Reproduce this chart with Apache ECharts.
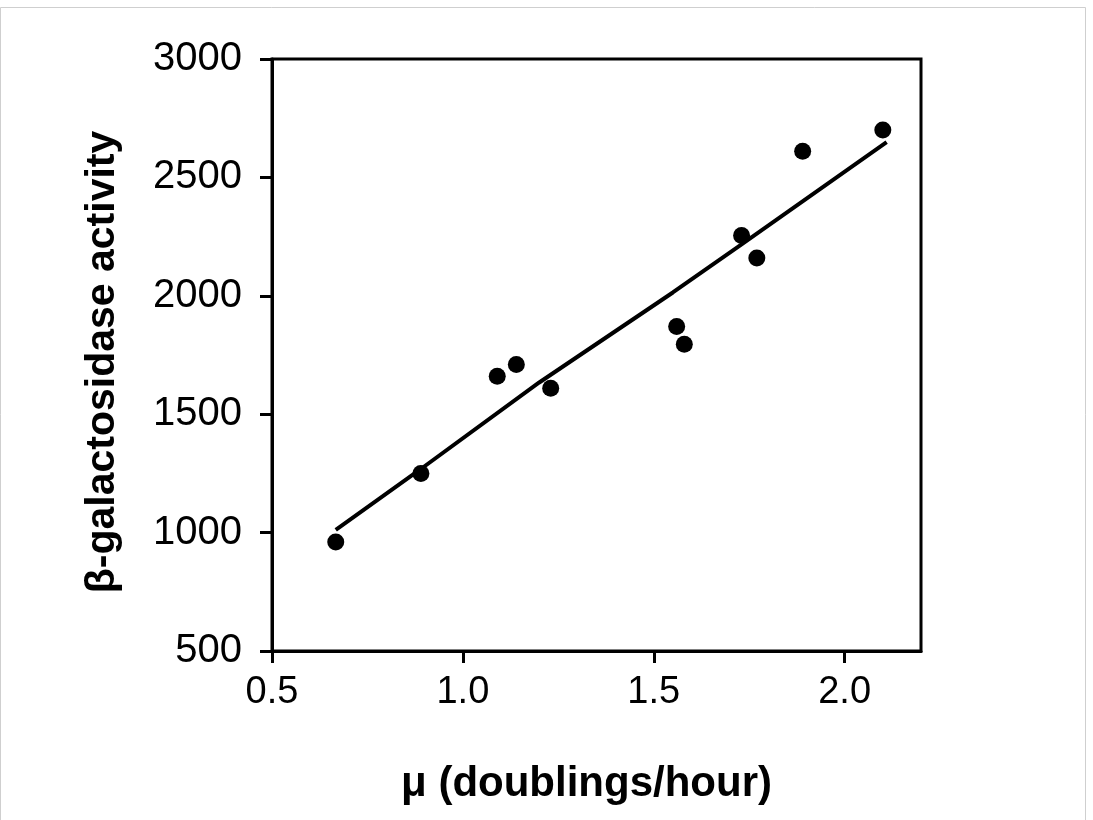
<!DOCTYPE html>
<html>
<head>
<meta charset="utf-8">
<script src="https://cdn.jsdelivr.net/npm/echarts@6/dist/echarts.min.js"></script>
<style>
  html, body { margin: 0; padding: 0; background: #fff; }
  #chart { width: 1093px; height: 820px; }
</style>
</head>
<body>
<div id="chart"></div>
<script>
// Growth rate (doublings per hour) and measured β-galactosidase activity
const growthRate = [0.667, 0.89, 1.09, 1.14, 1.23, 1.56, 1.58, 1.73, 1.77, 1.89, 2.10];
const activity   = [960, 1250, 1660, 1710, 1610, 1870, 1795, 2255, 2160, 2610, 2700];

// Fitted trend line through the measurements
const fitRate     = [0.667, 0.88, 1.20, 1.55, 1.73, 2.11];
const fitActivity = [1012, 1257, 1634, 2014, 2217, 2649];

// Axis ticks
const xTicks = [0.5, 1.0, 1.5, 2.0];
const yTicks = [500, 1000, 1500, 2000, 2500, 3000];

const FONT = '"Liberation Sans", Arial, sans-serif';

const chart = echarts.init(document.getElementById('chart'), null, { renderer: 'canvas' });

chart.setOption({
  backgroundColor: '#ffffff',
  animation: false,
  graphic: [{
    type: 'rect',
    shape: { x: 0.5, y: 7.5, width: 1085, height: 820 },
    style: { fill: 'none', stroke: '#cfcfcf', lineWidth: 1 },
    silent: true
  }],
  grid: {
    left: 272, top: 59, right: 172, bottom: 169,
    show: true, borderColor: '#000', borderWidth: 3, backgroundColor: 'transparent'
  },
  xAxis: {
    type: 'value',
    min: 0.5, max: 2.2, interval: 0.5,
    name: 'μ (doublings/hour)',
    nameLocation: 'middle',
    nameGap: 112,
    nameTextStyle: { fontFamily: FONT, fontWeight: 'bold', fontSize: 42, color: '#000', padding: [0, 20, 0, 0] },
    axisLine: { show: true, onZero: false, lineStyle: { color: '#000', width: 3 } },
    axisTick: { show: true, inside: false, length: 12, customValues: xTicks, lineStyle: { color: '#000', width: 3 } },
    axisLabel: {
      customValues: xTicks, margin: 23,
      fontFamily: FONT, fontSize: 38, color: '#000',
      formatter: v => v.toFixed(1)
    },
    splitLine: { show: false }
  },
  yAxis: {
    type: 'value',
    min: 500, max: 3000, interval: 500,
    name: 'β-galactosidase activity',
    nameLocation: 'middle',
    nameGap: 149,
    nameRotate: 90,
    nameTextStyle: { fontFamily: FONT, fontWeight: 'bold', fontSize: 41, color: '#000', padding: [0, 14, 0, 0] },
    axisLine: { show: true, onZero: false, lineStyle: { color: '#000', width: 3 } },
    axisTick: { show: true, inside: false, length: 12, customValues: yTicks, lineStyle: { color: '#000', width: 3 } },
    axisLabel: {
      customValues: yTicks, margin: 30,
      fontFamily: FONT, fontSize: 40, color: '#000',
      formatter: v => String(v)
    },
    splitLine: { show: false }
  },
  series: [
    {
      type: 'line',
      data: fitRate.map((x, i) => [x, fitActivity[i]]),
      showSymbol: false,
      smooth: false,
      lineStyle: { color: '#000', width: 4 },
      z: 2
    },
    {
      type: 'scatter',
      data: growthRate.map((x, i) => [x, activity[i]]),
      symbol: 'circle',
      symbolSize: 17,
      itemStyle: { color: '#000', opacity: 1 },
      z: 3
    }
  ]
});
</script>
</body>
</html>
